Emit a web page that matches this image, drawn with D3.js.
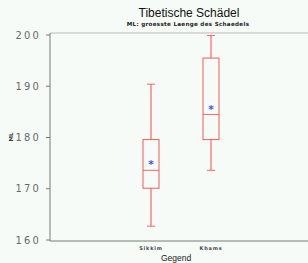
<!DOCTYPE html>
<html><head><meta charset="utf-8">
<script src="https://cdn.jsdelivr.net/npm/d3@7"></script>
<style>body{margin:0;background:#fff}svg{display:block}</style>
</head><body>
<script>
const categories = ["Sikkim", "Khams"];
const whiskerLow = [162.6, 173.5];
const q1 = [170.0, 179.5];
const median = [173.5, 184.4];
const q3 = [179.5, 195.4];
const whiskerHigh = [190.3, 199.8];
const means = [174.8, 185.6];
const yTicks = [160, 170, 180, 190, 200];

(function () {
const W = 308, H = 263;
const svg = d3.select("body").append("svg").attr("width", W).attr("height", H);
svg.append("rect").attr("width", W).attr("height", H).attr("fill", "#f6fbf8");

const mLeft = 50, mTop = 33, mBottom = 241, mRight = 308;
const y = d3.scaleLinear().domain([160, 200]).range([239.5, 34.5]);
const x = d3.scalePoint().domain(categories).range([151, 211]);

svg.append("line").attr("x1", mLeft).attr("x2", mRight).attr("y1", mTop).attr("y2", mTop)
  .attr("stroke", "#bbbbbb").attr("stroke-width", 1.2);
svg.append("line").attr("x1", mLeft).attr("x2", mRight).attr("y1", mBottom).attr("y2", mBottom)
  .attr("stroke", "#777c78").attr("stroke-width", 1);

const yAxis = d3.axisLeft(y).tickValues(yTicks).tickSize(4).tickPadding(5).tickFormat(d3.format("d"));
const ga = svg.append("g").attr("transform", `translate(${mLeft},0)`).call(yAxis);
ga.select(".domain").remove();
ga.selectAll(".tick line").attr("stroke", "#777c78");
ga.selectAll(".tick text").attr("fill", "#6a6a6a").attr("font-family", "DejaVu Sans Condensed, DejaVu Sans")
  .attr("font-size", 11).attr("letter-spacing", "2.2px").style("font-weight", "200");
svg.append("line").attr("x1", mLeft).attr("x2", mLeft).attr("y1", mTop).attr("y2", mBottom)
  .attr("stroke", "#777c78");

const g = svg.append("g");
const bw = 16, cw = 8;
categories.forEach((c, i) => {
  const cx = x(c);
  const col = "#f56868";
  g.append("line").attr("x1", cx).attr("x2", cx).attr("y1", y(whiskerHigh[i])).attr("y2", y(q3[i]))
    .attr("stroke", col).attr("stroke-width", 1.2);
  g.append("line").attr("x1", cx).attr("x2", cx).attr("y1", y(q1[i])).attr("y2", y(whiskerLow[i]))
    .attr("stroke", col).attr("stroke-width", 1.2);
  g.append("line").attr("x1", cx - cw/2).attr("x2", cx + cw/2).attr("y1", y(whiskerHigh[i])).attr("y2", y(whiskerHigh[i]))
    .attr("stroke", col);
  g.append("line").attr("x1", cx - cw/2).attr("x2", cx + cw/2).attr("y1", y(whiskerLow[i])).attr("y2", y(whiskerLow[i]))
    .attr("stroke", col);
  g.append("rect").attr("x", cx - bw/2).attr("y", y(q3[i])).attr("width", bw).attr("height", y(q1[i]) - y(q3[i]))
    .attr("fill", "none").attr("stroke", col).attr("stroke-width", 1.1);
  g.append("line").attr("x1", cx - bw/2).attr("x2", cx + bw/2).attr("y1", y(median[i])).attr("y2", y(median[i]))
    .attr("stroke", col);
  g.append("text").attr("x", cx).attr("y", y(means[i]) + 4.5).attr("text-anchor", "middle")
    .attr("font-family", "DejaVu Sans").attr("font-size", 10.5).attr("font-weight", "bold").attr("fill", "#3f55f2").text("*");
});

categories.forEach(c => {
  svg.append("text").attr("x", x(c)).attr("y", 250).attr("text-anchor", "middle")
    .attr("font-family", "DejaVu Sans").attr("font-size", 5).attr("font-weight", "bold")
    .attr("letter-spacing", "0.8px").attr("fill", "#444").text(c);
});
svg.append("text").attr("x", 176).attr("y", 261).attr("text-anchor", "middle")
  .attr("font-family", "Liberation Sans, Arial").attr("font-size", 8.5).attr("fill", "#222").text("Gegend");

svg.append("text").attr("transform", "translate(13,137) rotate(-90)").attr("text-anchor", "middle")
  .attr("font-family", "DejaVu Sans").attr("font-size", 5.5).attr("font-weight", "bold").attr("fill", "#333").text("ML");

svg.append("text").attr("x", 189).attr("y", 17).attr("text-anchor", "middle")
  .attr("font-family", "Liberation Sans, Arial").attr("font-size", 12).attr("fill", "#111").text("Tibetische Schädel");
svg.append("text").attr("x", 188).attr("y", 26).attr("text-anchor", "middle")
  .attr("font-family", "DejaVu Sans").attr("font-size", 5.6).attr("font-weight", "bold").attr("letter-spacing", "0.3px")
  .attr("fill", "#222").text("ML: groesste Laenge des Schaedels");
})();
</script>
</body></html>
